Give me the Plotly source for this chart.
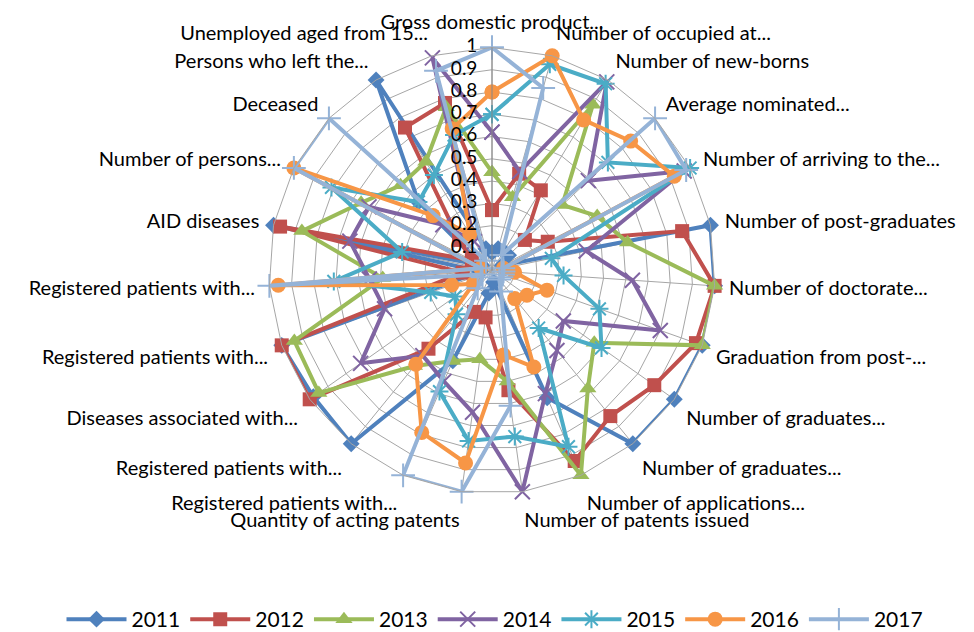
import plotly.graph_objects as go

categories = [
    "Gross domestic product...", "Number of occupied at...", "Number of new-borns",
    "Average nominated...", "Number of arriving to the...", "Number of post-graduates",
    "Number of doctorate...", "Graduation from post-...", "Number of graduates...",
    "Number of graduates...", "Number of applications...", "Number of patents issued",
    "Quantity of acting patents", "Registered patients with...", "Registered patients with...",
    "Diseases associated with...", "Registered patients with...", "Registered patients with...",
    "AID diseases", "Number of persons...", "Deceased", "Persons who left the...",
    "Unemployed aged from 15...",
]

years = ["2011", "2012", "2013", "2014", "2015", "2016", "2017"]

v2011 = [0.08, 0.1, 0.1, 0.1, 0.05, 1.0, 1.0, 1.0, 1.0, 1.0, 0.62, 0.05, 0.1, 0.44, 1.0, 0.98, 1.0, 0.05, 1.0, 0.05, 0.45, 1.0, 0.1]
v2012 = [0.27, 0.45, 0.42, 0.2, 0.28, 0.87, 1.0, 0.97, 0.89, 0.84, 0.93, 0.54, 0.21, 0.2, 0.45, 1.0, 1.0, 0.13, 0.97, 0.1, 0.2, 0.75, 0.78]
v2013 = [0.44, 0.34, 0.87, 0.43, 0.53, 0.62, 1.0, 1.0, 0.56, 0.68, 1.0, 0.5, 0.4, 0.44, 0.55, 0.95, 0.94, 0.49, 0.87, 0.66, 0.56, 0.57, 0.76]
v2014 = [0.62, 0.46, 0.99, 0.59, 0.97, 0.43, 0.63, 0.8, 0.39, 0.46, 0.6, 1.0, 0.64, 0.54, 0.49, 0.72, 0.51, 0.55, 0.65, 0.62, 0.3, 0.15, 0.99]
v2015 = [0.7, 0.96, 0.98, 0.71, 1.0, 0.27, 0.32, 0.51, 0.6, 0.33, 0.86, 0.75, 0.77, 0.59, 0.25, 0.2, 0.29, 0.71, 0.41, 0.81, 0.45, 0.5, 0.63]
v2016 = [0.8, 1.0, 0.79, 0.85, 0.92, 0.05, 0.1, 0.26, 0.19, 0.16, 0.47, 0.38, 0.87, 0.79, 0.54, 0.1, 0.19, 0.96, 0.05, 1.0, 0.36, 0.19, 0.66]
v2017 = [1.0, 0.85, 0.08, 1.0, 0.98, 0.05, 0.05, 0.05, 0.05, 0.05, 0.1, 0.61, 1.0, 1.0, 0.1, 0.05, 0.05, 1.0, 0.05, 1.0, 1.0, 0.05, 0.93]

radial_ticks = [0, 0.1, 0.2, 0.3, 0.4, 0.5, 0.6, 0.7, 0.8, 0.9, 1]
radial_tick_labels = ["0", "0.1", "0.2", "0.3", "0.4", "0.5", "0.6", "0.7", "0.8", "0.9", "1"]

series = [v2011, v2012, v2013, v2014, v2015, v2016, v2017]
colors = ["#4F81BD", "#C0504D", "#9BBB59", "#8064A2", "#4BACC6", "#F79646", "#95B3D7"]
symbols = ["diamond", "square", "triangle-up", "x-thin", "asterisk", "circle", "cross-thin"]
sizes = [13, 14, 15, 15, 15, 15, 17]

# make duplicate category names unique with invisible suffixes
seen = {}
cats = []
for c in categories:
    n = seen.get(c, 0)
    cats.append(c + "\u200b" * n)
    seen[c] = n + 1

fig = go.Figure()
for name, vals, col, sym, sz in zip(years, series, colors, symbols, sizes):
    thin = sym in ("x-thin", "asterisk", "cross-thin")
    fig.add_trace(go.Scatterpolar(
        r=vals + vals[:1], theta=cats + cats[:1], name=name,
        mode="lines+markers",
        line=dict(color=col, width=4),
        marker=dict(symbol=sym, size=sz, color=col,
                    line=dict(color=col, width=2 if thin else 0)),
    ))

# radial tick labels, drawn to the left of the vertical axis (as in Excel)
fig.add_trace(go.Scatterpolar(
    r=radial_ticks, theta=[cats[0]] * len(radial_ticks),
    mode="text", text=[t + "\u00a0\u00a0\u00a0" for t in radial_tick_labels],
    textposition="middle left", textfont=dict(size=19, color="#000000"),
    cliponaxis=False, showlegend=False, hoverinfo="skip",
))

cx, cy, R = 484, 266, 226
W, H = 974, 632
fig.update_layout(
    width=W, height=H,
    margin=dict(l=0, r=0, t=0, b=0),
    paper_bgcolor="white",
    font=dict(family="Lato, 'Open Sans', sans-serif", size=20, color="#000000"),
    polar=dict(
        domain=dict(x=[(cx - R) / W, (cx + R) / W], y=[1 - (cy + R) / H, 1 - (cy - R) / H]),
        bgcolor="white",
        gridshape="linear",
        radialaxis=dict(range=[-0.002, 1], tickvals=radial_ticks, showticklabels=False,
                        angle=90,
                        showline=True, linecolor="#868686", linewidth=1,
                        gridcolor="#A6A6A6", gridwidth=1, ticks=""),
        angularaxis=dict(direction="clockwise", rotation=90,
                         gridcolor="#A6A6A6", linecolor="#A6A6A6", linewidth=1,
                         ticks="outside", ticklen=10, tickcolor="rgba(0,0,0,0)",
                         tickfont=dict(size=20)),
    ),
    legend=dict(orientation="h", x=0.5, xanchor="center", y=0.02, yanchor="middle",
                font=dict(size=21), itemwidth=60),
)

fig.write_html("out.html")
